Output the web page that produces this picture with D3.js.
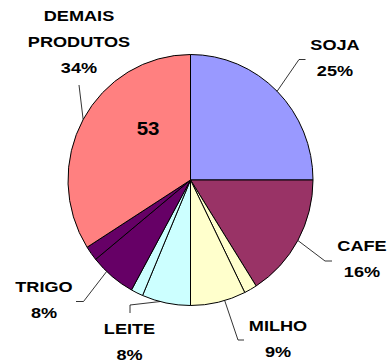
<!DOCTYPE html>
<html>
<head>
<meta charset="utf-8">
<script src="https://cdn.jsdelivr.net/npm/d3@7"></script>
<style>
  html, body { margin: 0; padding: 0; background: #fff; }
  svg { display: block; }
  text { font-family: "Liberation Sans", Arial, sans-serif; font-weight: bold; fill: #000; }
</style>
</head>
<body>
<svg id="chart" width="389" height="363"></svg>
<script>
// Product groups and their shares of the total (%)
const groups = ["SOJA", "CAFE", "MILHO", "LEITE", "TRIGO", "DEMAIS PRODUTOS"];
const groupShares = [25, 16, 9, 8, 8, 34];
const groupLabelLines = [["SOJA"], ["CAFE"], ["MILHO"], ["LEITE"], ["TRIGO"], ["DEMAIS", "PRODUTOS"]];
const groupColors = ["#9999FF", "#993366", "#FFFFCC", "#CCFFFF", "#660066", "#FF8080"];

// Individual slices (some groups are split into two parts), clockwise from 12 o'clock
const sliceGroups = ["SOJA", "CAFE", "MILHO", "MILHO", "LEITE", "LEITE", "TRIGO", "TRIGO", "DEMAIS PRODUTOS"];
const sliceValues = [25, 16, 1.7, 7.3, 6.4, 1.6, 6.1, 1.9, 34];

// Value written inside the largest slice
const innerNote = "53";

const svg = d3.select("#chart");
const cx = 190.5, cy = 180, rx = 122.5, ry = 125.5;

const color = d3.scaleOrdinal().domain(groups).range(groupColors);

const pie = d3.pie().sort(null).value(d => d.value).startAngle(0).endAngle(2 * Math.PI);
const slices = pie(sliceValues.map((v, i) => ({ group: sliceGroups[i], value: v })));
const arc = d3.arc().innerRadius(0).outerRadius(rx);

const pieG = svg.append("g")
  .attr("transform", `translate(${cx},${cy}) scale(1,${ry / rx})`);

pieG.selectAll("path")
  .data(slices)
  .join("path")
  .attr("d", arc)
  .attr("fill", d => color(d.data.group))
  .attr("stroke", "#000")
  .attr("stroke-width", 1)
  .attr("stroke-linejoin", "round")
  .attr("vector-effect", "non-scaling-stroke");

// Angular extent of each group
const groupAngles = groups.map(g => {
  const s = slices.filter(d => d.data.group === g);
  return { start: d3.min(s, d => d.startAngle), end: d3.max(s, d => d.endAngle) };
});
const edgePoint = a => [cx + rx * Math.sin(a), cy - ry * Math.cos(a)];

// Label placement: centre x, first baseline, and leader polyline after the rim point
const labelLayout = [
  { x: 335, y: 50, leader: [[299, 59.5], [305.5, 59.5]] },
  { x: 362, y: 251, leader: [[325, 261], [332, 261]] },
  { x: 278, y: 331, leader: [[238, 340], [244, 340]] },
  { x: 129.5, y: 334.5, leader: [[130, 305], [130, 313]] },
  { x: 44, y: 292.5, leader: [[83.5, 301.5], [76, 301.5]] },
  { x: 79, y: 21, leader: [[79, 85]] }
];
const stretch = 1.21, lineGap = 25.8;

const leader = d3.line();
groups.forEach((g, i) => {
  const ga = groupAngles[i];
  const mid = (ga.start + ga.end) / 2;
  const lay = labelLayout[i];
  svg.append("path")
    .attr("d", leader([edgePoint(mid), ...lay.leader]))
    .attr("fill", "none")
    .attr("stroke", "#000")
    .attr("stroke-width", 0.8);

  const lines = groupLabelLines[i].concat([groupShares[i] + "%"]);
  svg.append("g")
    .attr("transform", `translate(${lay.x},0) scale(${stretch},1)`)
    .append("text")
    .attr("text-anchor", "middle")
    .attr("font-size", 15)
    .selectAll("tspan")
    .data(lines)
    .join("tspan")
    .attr("x", 0)
    .attr("y", (d, k) => lay.y + k * lineGap)
    .text(d => d);
});

svg.append("g")
  .attr("transform", `translate(148,0) scale(1.17,1)`)
  .append("text")
  .attr("x", 0)
  .attr("y", 135)
  .attr("text-anchor", "middle")
  .attr("font-size", 17.5)
  .text(innerNote);
</script>
</body>
</html>
